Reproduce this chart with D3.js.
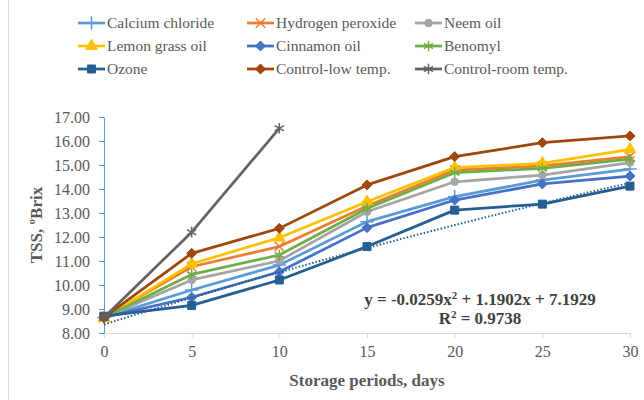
<!DOCTYPE html>
<html>
<head>
<meta charset="utf-8">
<script src="https://cdn.jsdelivr.net/npm/d3@7"></script>
<style>
  body { margin: 0; background: #fff; }
</style>
</head>
<body>
<div class="chart"></div>
<script>
// Data
const days = [0, 5, 10, 15, 20, 25, 30];
const yTicks = [8, 9, 10, 11, 12, 13, 14, 15, 16, 17];

const calciumChloride = [8.65, 9.79, 10.83, 12.64, 13.68, 14.37, 14.83];
const hydrogenPeroxide = [8.65, 10.76, 11.6, 13.29, 14.79, 14.96, 15.35];
const neemOil = [8.65, 10.21, 11.01, 13.05, 14.3, 14.58, 15.1];
const lemonGrassOil = [8.62, 10.88, 11.97, 13.47, 14.89, 15.07, 15.65];
const cinnamonOil = [8.65, 9.49, 10.55, 12.39, 13.54, 14.21, 14.54];
const benomyl = [8.65, 10.44, 11.25, 13.19, 14.68, 14.86, 15.24];
const ozone = [8.7, 9.15, 10.21, 11.6, 13.12, 13.37, 14.12];
const controlLow = [8.65, 11.32, 12.36, 14.17, 15.35, 15.93, 16.21];
const controlRoom = [8.65, 12.2, 16.53];

// trendline coefficients (Excel polynomial, x = point index 1..7)
const trendCoef = [7.1929, 1.1902, -0.0259];

const series = [
  { name: "Calcium chloride", values: calciumChloride, color: "#5B9BD5", marker: "plus" },
  { name: "Hydrogen peroxide", values: hydrogenPeroxide, color: "#ED7D31", marker: "times" },
  { name: "Neem oil", values: neemOil, color: "#A5A5A5", marker: "circle" },
  { name: "Lemon grass oil", values: lemonGrassOil, color: "#FFC000", marker: "triangle" },
  { name: "Cinnamon oil", values: cinnamonOil, color: "#4472C4", marker: "diamond" },
  { name: "Benomyl", values: benomyl, color: "#70AD47", marker: "asterisk" },
  { name: "Ozone", values: ozone, color: "#255E91", marker: "square" },
  { name: "Control-low temp.", values: controlLow, color: "#9E480E", marker: "diamond" },
  { name: "Control-room temp.", values: controlRoom, color: "#636363", marker: "asterisk" }
];

const font = '"Liberation Serif", "Times New Roman", serif';

const svgWidth = 644;
const svgHeight = 400;
const margin = { top: 117, right: 14, bottom: 67, left: 104 };
const width = svgWidth - margin.left - margin.right;
const height = svgHeight - margin.top - margin.bottom;

const svg = d3.select(".chart")
  .append("svg")
  .attr("width", svgWidth)
  .attr("height", svgHeight)
  .attr("font-family", font);

// chart outline (left edge visible in reference)
svg.append("line")
  .attr("x1", 8.5).attr("x2", 8.5)
  .attr("y1", 0).attr("y2", svgHeight)
  .attr("stroke", "#d9d9d9");

const chartGroup = svg.append("g")
  .attr("transform", `translate(${margin.left}, ${margin.top})`);

const x = d3.scaleLinear().domain([0, 30]).range([0, width]);
const y = d3.scaleLinear().domain([8, 17]).range([height, 0]);

// x axis
const xAxis = chartGroup.append("g")
  .attr("transform", `translate(0, ${height})`)
  .call(d3.axisBottom(x).tickValues(days).tickSize(5).tickPadding(8).tickFormat(d3.format("d")))
  .attr("font-family", font);
xAxis.select(".domain").attr("stroke", "#d9d9d9");
xAxis.selectAll(".tick line").attr("stroke", "#d9d9d9");
xAxis.selectAll("text").style("font-size", "16px").attr("fill", "#595959");

// y axis
const yAxis = chartGroup.append("g")
  .call(d3.axisLeft(y).tickValues(yTicks).tickSize(5).tickSizeOuter(0).tickPadding(9).tickFormat(d3.format(".2f")))
  .attr("font-family", font);
yAxis.select(".domain").attr("stroke", "#5B9BD5");
yAxis.selectAll(".tick line").attr("stroke", "#5B9BD5");
yAxis.selectAll("text").style("font-size", "16px").attr("fill", "#595959");

// marker shapes
function markerPath(type, size) {
  const s = size / 2;
  switch (type) {
    case "plus": return d3.symbol(d3.symbolPlus, 60)();
    case "times": return d3.symbol(d3.symbolTimes, 60)();
    case "asterisk": return d3.symbol(d3.symbolAsterisk, 80)();
    case "circle": return d3.symbol(d3.symbolCircle, 45)();
    case "triangle": return d3.symbol(d3.symbolTriangle, 60)();
    case "square": return `M${-s},${-s}h${size}v${size}h${-size}Z`;
    case "diamond": return `M0,${-s - 1}L${s + 1},0L0,${s + 1}L${-s - 1},0Z`;
  }
}
const strokeMarkers = ["plus", "times", "asterisk"];

function drawMarker(g, type, color) {
  const p = g.append("path").attr("d", markerPath(type, 8));
  if (strokeMarkers.includes(type)) {
    p.attr("fill", "none").attr("stroke", color).attr("stroke-width", 1.5);
  } else {
    p.attr("fill", color).attr("stroke", color).attr("stroke-width", 1);
  }
}

const line = d3.line()
  .x((d, i) => x(days[i]))
  .y(d => y(d));

series.forEach(s => {
  const g = chartGroup.append("g");
  g.append("path")
    .datum(s.values)
    .attr("d", line)
    .attr("fill", "none")
    .attr("stroke", s.color)
    .attr("stroke-width", 2.75)
    .attr("stroke-linejoin", "round");
  s.values.forEach((v, i) => {
    const m = g.append("g").attr("transform", `translate(${x(days[i])}, ${y(v)})`);
    drawMarker(m, s.marker, s.color);
  });
});

// polynomial trendline for Ozone
const trendPts = d3.range(0, 30.01, 0.5).map(d => {
  const idx = d / 5 + 1;
  return [d, trendCoef[0] + trendCoef[1] * idx + trendCoef[2] * idx * idx];
});
chartGroup.append("path")
  .datum(trendPts)
  .attr("d", d3.line().x(d => x(d[0])).y(d => y(d[1])))
  .attr("fill", "none")
  .attr("stroke", "#255E91")
  .attr("stroke-width", 2)
  .attr("stroke-dasharray", "1.5 2");

// trendline equation
chartGroup.append("text")
  .attr("x", 376).attr("y", 188)
  .attr("text-anchor", "middle")
  .style("font-size", "17px").style("font-weight", "bold")
  .attr("fill", "#404040")
  .html("y = -0.0259x<tspan dy='-6' font-size='11'>2</tspan><tspan dy='6'> + 1.1902x + 7.1929</tspan>");
chartGroup.append("text")
  .attr("x", 376).attr("y", 207)
  .attr("text-anchor", "middle")
  .style("font-size", "17px").style("font-weight", "bold")
  .attr("fill", "#404040")
  .html("R<tspan dy='-6' font-size='11'>2</tspan><tspan dy='6'> = 0.9738</tspan>");

// axis titles
svg.append("text")
  .attr("transform", "rotate(-90)")
  .attr("x", -225).attr("y", 42)
  .attr("text-anchor", "middle")
  .attr("fill", "#595959")
  .style("font-size", "17px").style("font-weight", "bold")
  .text("TSS, ºBrix");

svg.append("text")
  .attr("x", 367).attr("y", 386)
  .attr("text-anchor", "middle")
  .attr("fill", "#595959")
  .style("font-size", "17px").style("font-weight", "bold")
  .text("Storage periods, days");

// legend
const legendCols = [78, 247, 415];
const legendRows = [23, 46, 69];
series.forEach((s, i) => {
  const lg = svg.append("g")
    .attr("transform", `translate(${legendCols[i % 3]}, ${legendRows[Math.floor(i / 3)]})`);
  lg.append("line")
    .attr("x1", 0).attr("x2", 27)
    .attr("stroke", s.color).attr("stroke-width", 2.75);
  const m = lg.append("g").attr("transform", "translate(13.5, 0)");
  drawMarker(m, s.marker, s.color);
  lg.append("text")
    .attr("x", 29).attr("y", 5)
    .attr("fill", "#595959")
    .style("font-size", "15.5px")
    .text(s.name);
});
</script>
</body>
</html>
